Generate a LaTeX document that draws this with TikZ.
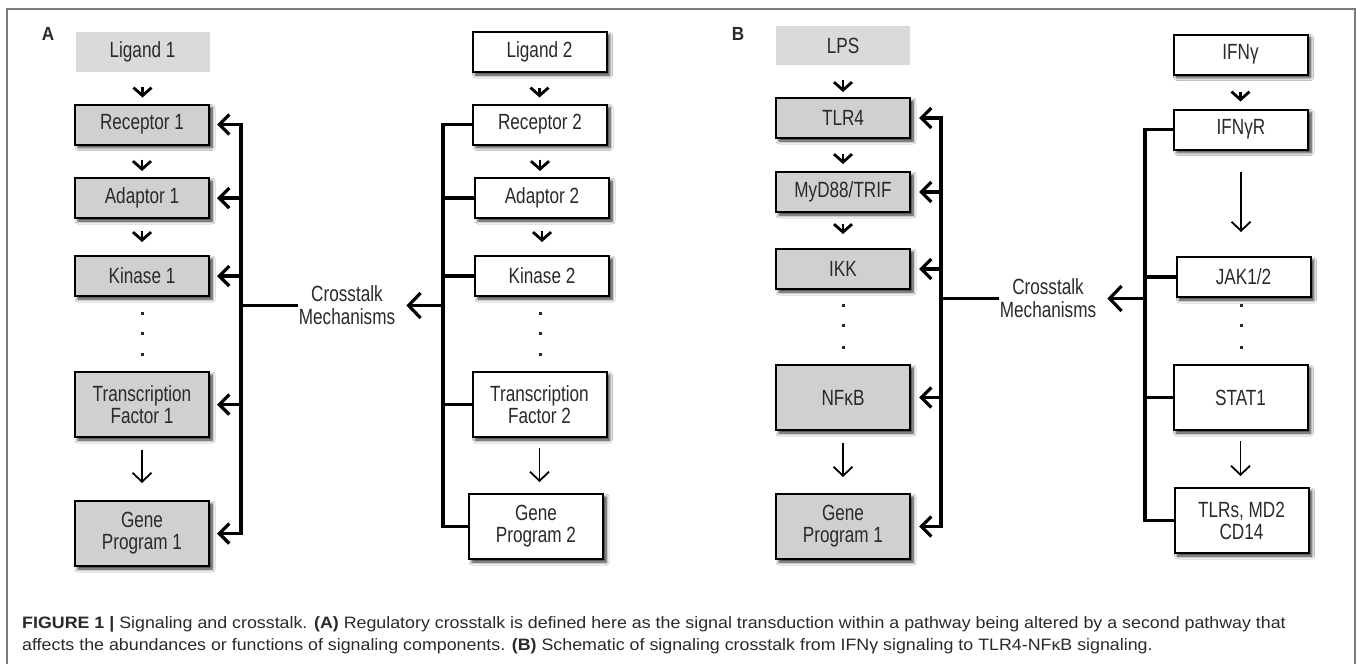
\documentclass[tikz,border=0pt]{standalone}
\usepackage{fontspec}
\setmainfont{Liberation Sans}
\newfontfamily\boxfont[FakeStretch=0.78]{Liberation Sans}
\newfontfamily\capfont[FakeStretch=1.08]{Liberation Sans}
\newfontfamily\labfont[FakeStretch=0.9]{Liberation Sans}
\usetikzlibrary{arrows.meta,shadows.blur}
\definecolor{boxgray}{HTML}{D0D0D0}
\definecolor{topgray}{HTML}{DADADA}
\definecolor{txt}{HTML}{2A2A2A}
\definecolor{framegray}{HTML}{7A7A7A}
\tikzset{
  boxbase/.style={font=\boxfont\fontsize{22}{22}\selectfont, text=txt, align=center, inner sep=0pt,
    minimum width=134pt, minimum height=40pt},
  tallbox/.style={minimum height=65pt},
  gbox/.style={boxbase, draw=black, line width=2pt, fill=boxgray,
    blur shadow={shadow xshift=3pt, shadow yshift=-3pt, shadow blur radius=3pt, shadow blur steps=6, shadow opacity=85}},
  wbox/.style={boxbase, draw=black, line width=2pt, fill=white,
    blur shadow={shadow xshift=3pt, shadow yshift=-3pt, shadow blur radius=3pt, shadow blur steps=6, shadow opacity=85}},
  topbox/.style={boxbase, fill=topgray},
  sarr/.style={line width=2.8pt, -{Straight Barb[length=8pt,width=18pt]}},
  larr/.style={line width=1.8pt, -{Straight Barb[length=9pt,width=19pt]}},
  busline/.style={line width=3.2pt},
  busarr/.style={line width=3.2pt, -{Straight Barb[length=10pt,width=20pt]}},
  ctarr/.style={line width=3.2pt, -{Straight Barb[length=12pt,width=25pt]}},
  cttext/.style={font=\boxfont\fontsize{22}{23}\selectfont, text=txt, align=center, inner sep=1pt},
  panellabel/.style={font=\labfont\bfseries\fontsize{19}{20}\selectfont, text=txt, inner sep=0pt},
  captext/.style={font=\capfont\fontsize{16.5}{22}\selectfont, text=txt, anchor=base west, inner sep=0pt},
  dotmark/.style={fill=txt}
}
\begin{document}
\begin{tikzpicture}[x=1pt,y=-1pt]
\useasboundingbox[fill=white] (0,0) rectangle (1357,664);
\draw[framegray, line width=1.5pt] (7,664) -- (7,9) -- (1355,9) -- (1355,664);

% ---------------- Panel A ----------------
\node[panellabel] (labA) at (48,34) {A};
\node[topbox] (l1) at (142.5,52) {Ligand 1};
\node[gbox] (r1) at (142,124.5) {Receptor 1};
\node[gbox] (a1) at (142,198) {Adaptor 1};
\node[gbox] (k1) at (142,276) {Kinase 1};
\node[gbox, tallbox] (tf1) at (142,404.5) {Transcription\\Factor 1};
\node[gbox, tallbox] (gp1) at (142,533.5) {Gene\\Program 1};
\foreach \y in {313,333,354} \fill[dotmark] (140.5,\y-1.5) rectangle (143.5,\y+1.5);

\node[wbox] (l2) at (539.5,52) {Ligand 2};
\node[wbox] (r2) at (540,124.5) {Receptor 2};
\node[wbox] (a2) at (542,198) {Adaptor 2};
\node[wbox] (k2) at (542,276) {Kinase 2};
\node[wbox, tallbox] (tf2) at (539.5,404.5) {Transcription\\Factor 2};
\node[wbox, tallbox] (gp2) at (536,526.5) {Gene\\Program 2};
\foreach \y in {313,333,354} \fill[dotmark] (538.5,\y-1.5) rectangle (541.5,\y+1.5);

\draw[sarr] ([yshift=-15pt]l1.south) -- ([yshift=6pt]l1.south |- r1.north);
\draw[sarr] ([yshift=-14pt]r1.south) -- ([yshift=6pt]r1.south |- a1.north);
\draw[sarr] ([yshift=-12pt]a1.south) -- ([yshift=13pt]a1.south |- k1.north);
\draw[larr] ([yshift=-12pt]tf1.south) -- ([yshift=17pt]tf1.south |- gp1.north);

\draw[sarr] ([yshift=-15pt]l2.south) -- ([yshift=6pt]l2.south |- r2.north);
\draw[sarr] ([yshift=-14pt]r2.south) -- ([yshift=6pt]r2.south |- a2.north);
\draw[sarr] ([yshift=-12pt]a2.south) -- ([yshift=13pt]a2.south |- k2.north);
\draw[larr] ([yshift=-10pt]tf2.south) -- ([yshift=11pt]tf2.south |- gp2.north);

\coordinate (busA1) at (241,124.5);
\coordinate (busA2) at (443,124.5);
\node[cttext] (ctA) at (347,305.5) {Crosstalk\\Mechanisms};

\draw[busarr, {Straight Barb[length=10pt,width=20pt]}-{Straight Barb[length=10pt,width=20pt]}]
  ([xshift=7pt]r1.east) -- (busA1 |- r1.east) -- (busA1 |- gp1.east) -- ([xshift=7pt]gp1.east);
\draw[busarr] (busA1 |- a1.east) -- ([xshift=7pt]a1.east);
\draw[busarr] (busA1 |- k1.east) -- ([xshift=7pt]k1.east);
\draw[busarr] (busA1 |- tf1.east) -- ([xshift=7pt]tf1.east);
\draw[busline] (busA1 |- ctA.west) -- (ctA.west);

\draw[busline] (r2.west) -- (busA2 |- r2.west) -- (busA2 |- gp2.west) -- (gp2.west);
\draw[busline] (busA2 |- a2.west) -- (a2.west);
\draw[busline] (busA2 |- k2.west) -- (k2.west);
\draw[busline] (busA2 |- tf2.west) -- (tf2.west);
\draw[ctarr] (busA2 |- ctA.east) -- ([xshift=10pt]ctA.east);

% ---------------- Panel B ----------------
\node[panellabel] (labB) at (738,34) {B};
\node[topbox, minimum height=39pt] (lps) at (843,45.5) {LPS};
\node[gbox] (tlr4) at (843,118) {TLR4};
\node[gbox] (myd) at (843,192) {MyD88/TRIF};
\node[gbox] (ikk) at (843,269) {IKK};
\node[gbox, tallbox] (nfkb) at (843,397.5) {NFκB};
\node[gbox, tallbox] (gpb) at (843,526.5) {Gene\\Program 1};
\foreach \y in {305,325,347} \fill[dotmark] (841.5,\y-1.5) rectangle (844.5,\y+1.5);

\node[wbox] (ifng) at (1240.5,54.5) {IFNγ};
\node[wbox] (ifngr) at (1241,129.5) {IFNγR};
\node[wbox] (jak) at (1243.5,277) {JAK1/2};
\node[wbox, tallbox] (stat) at (1240.5,397.5) {STAT1};
\node[wbox, tallbox] (tlrs) at (1241.5,520.5) {TLRs, MD2\\CD14};
\foreach \y in {305,325,347} \fill[dotmark] (1239.5,\y-1.5) rectangle (1242.5,\y+1.5);

\draw[sarr] ([yshift=-15pt]lps.south) -- ([yshift=5pt]lps.south |- tlr4.north);
\draw[sarr] ([yshift=-15pt]tlr4.south) -- ([yshift=7pt]tlr4.south |- myd.north);
\draw[sarr] ([yshift=-11pt]myd.south) -- ([yshift=14pt]myd.south |- ikk.north);
\draw[larr] ([yshift=-12pt]nfkb.south) -- ([yshift=16pt]nfkb.south |- gpb.north);

\draw[sarr] ([yshift=-16pt]ifng.south) -- ([yshift=7pt]ifng.south |- ifngr.north);
\draw[larr] ([yshift=-21pt]ifngr.south) -- ([yshift=24pt]ifngr.south |- jak.north);
\draw[larr] ([yshift=-10pt]stat.south) -- ([yshift=11pt]stat.south |- tlrs.north);

\coordinate (busB1) at (941,118);
\coordinate (busB2) at (1145,129.5);
\node[cttext] (ctB) at (1048,298.5) {Crosstalk\\Mechanisms};

\draw[busarr, {Straight Barb[length=10pt,width=20pt]}-{Straight Barb[length=10pt,width=20pt]}]
  ([xshift=8pt]tlr4.east) -- (busB1 |- tlr4.east) -- (busB1 |- gpb.east) -- ([xshift=8pt]gpb.east);
\draw[busarr] (busB1 |- myd.east) -- ([xshift=8pt]myd.east);
\draw[busarr] (busB1 |- ikk.east) -- ([xshift=8pt]ikk.east);
\draw[busarr] (busB1 |- nfkb.east) -- ([xshift=8pt]nfkb.east);
\draw[busline] (busB1 |- ctB.west) -- (ctB.west);

\draw[busline] (ifngr.west) -- (busB2 |- ifngr.west) -- (busB2 |- tlrs.west) -- (tlrs.west);
\draw[busline] (busB2 |- jak.west) -- (jak.west);
\draw[busline] (busB2 |- stat.west) -- (stat.west);
\draw[ctarr] (busB2 |- ctB.east) -- ([xshift=10pt]ctB.east);

% ---------------- Caption ----------------
\node[captext] (cap1) at (22,628) {\textbf{FIGURE 1 |} Signaling and crosstalk. \textbf{(A)} Regulatory crosstalk is defined here as the signal transduction within a pathway being altered by a second pathway that};
\node[captext] (cap2) at (22,650) {affects the abundances or functions of signaling components. \textbf{(B)} Schematic of signaling crosstalk from IFNγ signaling to TLR4-NFκB signaling.};
\end{tikzpicture}
\end{document}
